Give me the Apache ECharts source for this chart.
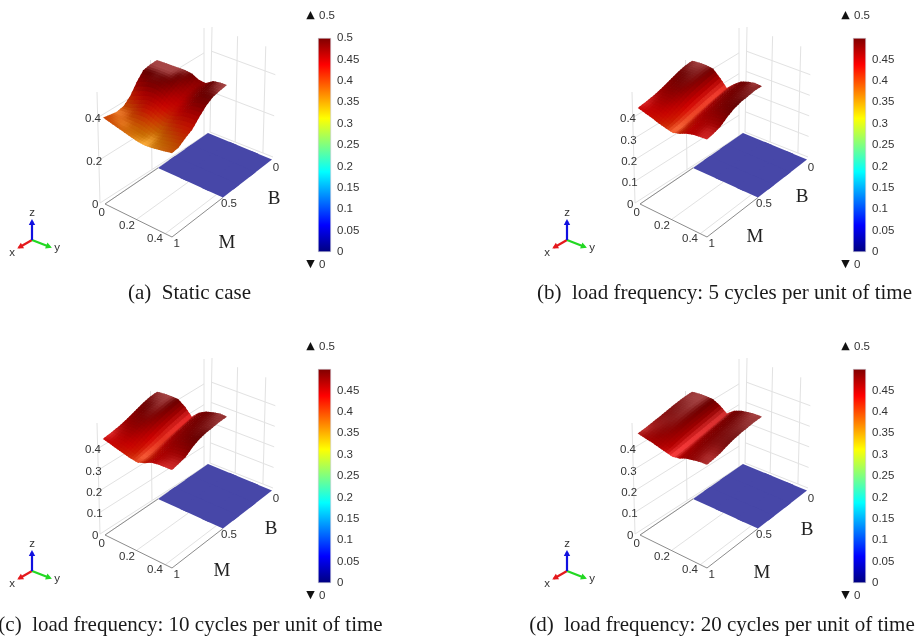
<!DOCTYPE html>
<html><head><meta charset="utf-8">
<style>html,body{margin:0;padding:0;background:#fff}#c{width:922px;height:642px;filter:blur(0.45px)}</style>
<script src="https://cdn.jsdelivr.net/npm/echarts@6/dist/echarts.min.js"></script>
</head><body><div id="c"></div>
<script>
// ---------- values ----------
const mGrid = [0,.05,.1,.15,.2,.25,.3,.35,.4,.45,.5];
const bGrid = [.5,.5625,.625,.6875,.75,.8125,.875,.9375,1];
const surfaceA = [
[.50,.50,.50,.50,.50,.495,.478,.475,.495,.50,.50],
[.50,.50,.50,.50,.498,.485,.465,.475,.49,.50,.50],
[.495,.498,.50,.498,.49,.47,.455,.465,.485,.495,.497],
[.46,.475,.485,.485,.475,.455,.44,.45,.47,.48,.482],
[.415,.43,.445,.455,.45,.435,.425,.435,.45,.455,.455],
[.39,.395,.41,.425,.425,.41,.40,.41,.42,.425,.425],
[.385,.388,.39,.396,.396,.385,.373,.385,.395,.405,.41],
[.392,.386,.381,.377,.373,.368,.366,.37,.377,.384,.392],
[.40,.393,.386,.379,.372,.366,.364,.368,.375,.382,.39]];
const surfaceB = [
[.497,.50,.50,.495,.465,.43,.458,.482,.492,.498,.495],
[.495,.50,.50,.492,.46,.428,.456,.48,.49,.497,.50],
[.488,.495,.498,.487,.455,.425,.453,.476,.488,.495,.50],
[.478,.488,.492,.48,.45,.422,.448,.47,.484,.492,.50],
[.468,.478,.483,.472,.443,.418,.442,.463,.478,.488,.495],
[.458,.466,.47,.46,.435,.414,.435,.456,.468,.474,.482],
[.452,.456,.457,.447,.426,.41,.428,.447,.456,.46,.463],
[.448,.445,.443,.433,.418,.407,.42,.438,.45,.453,.456],
[.445,.437,.43,.42,.413,.407,.418,.434,.444,.45,.453]];
const surfaceC = [
[.497,.50,.50,.498,.475,.44,.47,.486,.494,.50,.497],
[.495,.50,.50,.496,.47,.437,.467,.484,.492,.498,.50],
[.488,.495,.498,.49,.465,.433,.462,.48,.49,.496,.50],
[.478,.488,.493,.484,.458,.43,.456,.475,.486,.493,.50],
[.468,.478,.484,.475,.45,.425,.449,.468,.48,.49,.496],
[.458,.466,.472,.463,.44,.42,.44,.46,.47,.476,.484],
[.452,.456,.458,.45,.43,.416,.43,.45,.458,.462,.465],
[.448,.446,.444,.436,.422,.413,.424,.442,.452,.456,.459],
[.445,.438,.43,.423,.416,.413,.425,.443,.45,.453,.456]];
const surfaceD = [
[.497,.50,.50,.497,.48,.455,.478,.49,.495,.498,.497],
[.497,.50,.50,.497,.477,.452,.475,.488,.494,.498,.50],
[.494,.498,.50,.494,.473,.45,.471,.485,.492,.497,.50],
[.49,.495,.497,.49,.47,.447,.468,.482,.49,.495,.50],
[.485,.49,.493,.486,.466,.445,.464,.479,.487,.493,.498],
[.48,.485,.487,.48,.462,.443,.46,.475,.484,.488,.492],
[.476,.48,.48,.473,.456,.441,.455,.47,.478,.481,.484],
[.472,.473,.471,.463,.45,.44,.451,.465,.474,.478,.481],
[.47,.465,.46,.453,.446,.44,.447,.462,.47,.477,.48]];
const lowerPlane = [[0,0],[0,0]];
const zTicksA = ['0.4','0.2','0'];
const zTicksOther = ['0.4','0.3','0.2','0.1','0'];
const mTicks = ['0','0.2','0.4'];
const bTicks = ['0','0.5','1'];
const barTicksA = ['0.5','0.45','0.4','0.35','0.3','0.25','0.2','0.15','0.1','0.05','0'];
const barTicksOther = ['0.45','0.4','0.35','0.3','0.25','0.2','0.15','0.1','0.05','0'];
const barRange = [0.5];
const captions = ['(a)  Static case','(b)  load frequency: 5 cycles per unit of time','(c)  load frequency: 10 cycles per unit of time','(d)  load frequency: 20 cycles per unit of time'];
const jetStops = [[0,[0,0,127]],[.125,[0,0,255]],[.375,[0,255,255]],[.625,[255,255,0]],[.875,[255,0,0]],[1,[127,0,0]]];

// ---------- layout ----------
const panels = [
 {dx:0,dy:0,surf:surfaceA,z:zTicksA,bar:barTicksA,cap:184.5,capY:277.6,M:[227,243],B:[274,199]},
 {dx:535,dy:0,surf:surfaceB,z:zTicksOther,bar:barTicksOther,cap:719.5,capY:277.6,M:[220,237],B:[267,197]},
 {dx:0,dy:331,surf:surfaceC,z:zTicksOther,bar:barTicksOther,cap:185.5,capY:609.6,M:[222,240],B:[271,198]},
 {dx:535,dy:331,surf:surfaceD,z:zTicksOther,bar:barTicksOther,cap:717,capY:609.6,M:[227,242],B:[272,199]}];
const sans = '"Liberation Sans",Arial,sans-serif', serif = '"Liberation Serif","Times New Roman",serif';
const PW = 345, PH = 300;
const lerp=(a,b,t)=>a+(b-a)*t, lp=(p,q,t)=>[lerp(p[0],q[0],t),lerp(p[1],q[1],t)];
const bil=(q,u,v)=>lp(lp(q[0],q[1],u),lp(q[2],q[3],u),v);
const floorQ=[[158,168],[223,197.5],[105,204],[172,237]], topQ=[[157,60],[227,85],[102.5,96],[172,129.5]];
const blueQ=[[208,133],[272,159.5],[158,168],[223,197.5]];
const surfP=(u,v,z)=>lp(bil(floorQ,u,v),bil(topQ,u,v),z/.5);
function jet(t){t=Math.max(0,Math.min(1,t));for(let i=1;i<jetStops.length;i++){if(t<=jetStops[i][0]){const a=jetStops[i-1],b=jetStops[i],f=(t-a[0])/(b[0]-a[0]);return a[1].map((c,k)=>lerp(c,b[1][k],f));}}return jetStops[5][1];}
function shade(tab,i,j){
  const R=tab.length-1,C=tab[0].length-1,z=tab[i][j];
  const dm=(tab[i][Math.min(C,j+1)]-tab[i][Math.max(0,j-1)])/(Math.min(C,j+1)-Math.max(0,j-1));
  const db=(tab[Math.min(R,i+1)][j]-tab[Math.max(0,i-1)][j])/(Math.min(R,i+1)-Math.max(0,i-1));
  const sM=dm*215/7,sB=db*215/8,s2=sM*sM+sB*sB;
  const wash=71*Math.exp(-s2/.03);
  const k=Math.max(.55,Math.min(1,.76-.1*sM));
  return jet(z/.5).map(c=>Math.min(255,c*k+wash));
}
const css=c=>`rgb(${c.map(Math.round).join(',')})`;
const mix=(a,b,t)=>a.map((x,k)=>lerp(x,b[k],t));
const SUB=3;
function cellItem(api,tab,proj,i,j){
  const C=(p)=>api.coord(p);
  const nR=tab.length-1,nC=tab[0].length-1;
  const u0=j/nC,u1=(j+1)/nC,v0=i/nR,v1=(i+1)/nR;
  const q=[proj(u0,v0,tab[i][j]),proj(u1,v0,tab[i][j+1]),proj(u0,v1,tab[i+1][j]),proj(u1,v1,tab[i+1][j+1])].map(C);
  const c00=shade(tab,i,j),c10=shade(tab,i,j+1),c01=shade(tab,i+1,j),c11=shade(tab,i+1,j+1);
  const ch=[];
  const lastA=j===nC-1,lastB=i===nR-1;
  for(let b=0;b<SUB;b++)for(let a=0;a<SUB;a++){
    const s0=a/SUB,t0=b/SUB,sm=(a+.5)/SUB,tm=(b+.5)/SUB;
    const s1=(a+1)/SUB+((a===SUB-1&&lastA)?0:.12),t1=(b+1)/SUB+((b===SUB-1&&lastB)?0:.12);
    const col=css(mix(mix(c00,c10,sm),mix(c01,c11,sm),tm));
    ch.push({type:'polygon',shape:{points:[bil(q,s0,t0),bil(q,s1,t0),bil(q,s1,t1),bil(q,s0,t1)]},style:{fill:col,stroke:null}});
  }
  return {type:'group',children:ch};
}
const line=(api,p,q,stroke,w)=>{const a=api.coord(p),b=api.coord(q);return {type:'line',shape:{x1:a[0],y1:a[1],x2:b[0],y2:b[1]},style:{stroke,lineWidth:w||1}}};
const txt=(api,t,p,o)=>{const a=api.coord(p);return {type:'text',x:a[0],y:a[1],style:Object.assign({text:t,textAlign:'center',textVerticalAlign:'middle',fill:'#333',font:`11.5px ${sans}`},o||{})}};
const wallGray='#e2e2e2';
function zVal(t){return parseFloat(t);}
function wallRender(zt){return (params,api)=>{
  const ch=[];
  const L0=[100,203],L1=[204,136],LT0=[97,92],LT1=[204,28],zTop=.52;
  const R0=[210,132],R1=[273,157],RT0=[212,27],RT1=[276,50];
  [0,.5,1].forEach(f=>ch.push(line(api,lp(L0,L1,f),lp(LT0,LT1,f),wallGray)));
  [0,.4,.84].forEach(f=>ch.push(line(api,lp(R0,R1,f),lp(RT0,RT1,f),wallGray)));
  zt.forEach(t=>{const f=zVal(t)/zTop;
    ch.push(line(api,lp(L0,LT0,f),lp(L1,LT1,f),wallGray));
    ch.push(line(api,lp(R0,RT0,f),lp(R1,RT1,f),wallGray));});
  // floor
  ch.push(line(api,floorQ[2],blueQ[0],wallGray));
  [.47,.9].forEach(f=>ch.push(line(api,lp(floorQ[2],floorQ[3],f),lp(floorQ[0],floorQ[1],f),wallGray)));
  const fr='#8c8c8c';
  ch.push(line(api,floorQ[0],floorQ[2],fr));ch.push(line(api,floorQ[2],floorQ[3],fr));ch.push(line(api,floorQ[3],floorQ[1],fr));
  return {type:'group',children:ch};
};}
function labelRender(P){return (params,api)=>{
  const ch=[];
  P.z.forEach(t=>{const f=zVal(t)/.52;const base=lp([100,203],[97,92],f);
    const off=t==='0'?[-1.7,2]:[3.3,1.5];
    ch.push(txt(api,t,[base[0]+off[0],base[1]+off[1]],{textAlign:'right'}));});
  const mPos=[[101.7,213],[127,225.7],[155,238.7]];
  mTicks.forEach((t,i)=>ch.push(txt(api,t,mPos[i])));
  const bPos=[[276,167.7],[229,204],[176.7,244.3]];
  bTicks.forEach((t,i)=>ch.push(txt(api,t,bPos[i])));
  ch.push(txt(api,'M',P.M,{font:`19px ${serif}`,fill:'#222'}));
  ch.push(txt(api,'B',P.B,{font:`19px ${serif}`,fill:'#222'}));
  ch.push(txt(api,'▲',[310.5,15],{font:`11px "DejaVu Sans"`,fill:'#111'}));
  ch.push(txt(api,'0.5',[319,15.5],{textAlign:'left',font:`11.5px ${sans}`}));
  ch.push(txt(api,'▼',[310.5,264],{font:`11px "DejaVu Sans"`,fill:'#111'}));
  ch.push(txt(api,'0',[319,264.5],{textAlign:'left',font:`11.5px ${sans}`}));
  // orientation triad
  const o=[32,240];
  const arm=(end,col,lab,lp2)=>{
    const a=api.coord(o),b=api.coord(end);
    const ang=Math.atan2(b[1]-a[1],b[0]-a[0]),h=6,w=3.2;
    const tip=[b[0]+Math.cos(ang)*2,b[1]+Math.sin(ang)*2];
    const l=[tip[0]-Math.cos(ang)*h-Math.sin(ang)*w,tip[1]-Math.sin(ang)*h+Math.cos(ang)*w];
    const r=[tip[0]-Math.cos(ang)*h+Math.sin(ang)*w,tip[1]-Math.sin(ang)*h-Math.cos(ang)*w];
    ch.push({type:'line',shape:{x1:a[0],y1:a[1],x2:b[0],y2:b[1]},style:{stroke:col,lineWidth:2.2}});
    ch.push({type:'polygon',shape:{points:[tip,l,r]},style:{fill:col}});
    ch.push(txt(api,lab,lp2,{font:`11.5px ${sans}`}));
  };
  arm([19,247.5],'#e4181c','x',[12,253]);
  arm([50,247],'#22d822','y',[57,248]);
  arm([32,221],'#1010e0','z',[32,213]);
  return {type:'group',children:ch};
};}

// ---------- option ----------
const grids=[],xAxes=[],yAxes=[],series=[],titles=[];
const empty=[[0,0]];
panels.forEach((P,n)=>{
  const g=grids.length;
  grids.push({left:P.dx,top:P.dy,width:PW,height:PH,containLabel:false});
  xAxes.push({type:'value',gridIndex:g,min:0,max:PW,show:false});
  yAxes.push({type:'value',gridIndex:g,min:0,max:PH,inverse:true,show:false});
  const base={type:'custom',xAxisIndex:g,yAxisIndex:g,silent:true,animation:false,clip:false};
  series.push(Object.assign({},base,{data:empty,z:1,renderItem:wallRender(P.z)}));
  const blue=(u,v,z)=>bil(blueQ,u,v);
  series.push(Object.assign({},base,{data:[[0,0]],z:2,renderItem:(p,api)=>cellItem(api,lowerPlane,blue,0,0)}));
  const cells=[];
  for(let i=0;i<bGrid.length-1;i++)for(let j=0;j<mGrid.length-1;j++)cells.push([j,i]);
  series.push(Object.assign({},base,{data:cells,z:3,renderItem:(p,api)=>cellItem(api,P.surf,surfP,api.value(1),api.value(0))}));
  series.push(Object.assign({},base,{data:empty,z:4,renderItem:labelRender(P)}));
  // colour bar
  const h=grids.length;
  grids.push({left:P.dx+318,top:P.dy+38,width:13,height:214});
  xAxes.push({type:'category',gridIndex:h,data:['v'],show:false});
  const shown=P.bar;
  yAxes.push({type:'value',gridIndex:h,min:0,max:.5,interval:.05,position:'right',
    axisLine:{show:false},axisTick:{show:false},splitLine:{show:false},
    axisLabel:{margin:6,color:'#333',fontFamily:sans,fontSize:11.5,padding:[2,0,0,0],
      formatter:v=>{const s=String(+v.toFixed(2));return shown.includes(s)?s:'';}}});
  series.push({type:'bar',xAxisIndex:h,yAxisIndex:h,data:barRange,barWidth:'100%',silent:true,animation:false,
    itemStyle:{borderColor:'#c8c8d4',borderWidth:.6,color:new echarts.graphic.LinearGradient(0,1,0,0,jetStops.map(s=>({offset:s[0],color:css(s[1])})))}});
  titles.push({text:captions[n],left:P.cap,top:P.capY,textAlign:'center',textStyle:{fontFamily:serif,fontWeight:'normal',fontSize:21,color:'#1a1a1a'}});
});
const chart=echarts.init(document.getElementById('c'),null,{renderer:'canvas'});
chart.setOption({animation:false,backgroundColor:'#fff',title:titles,grid:grids,xAxis:xAxes,yAxis:yAxes,series});
</script></body></html>
